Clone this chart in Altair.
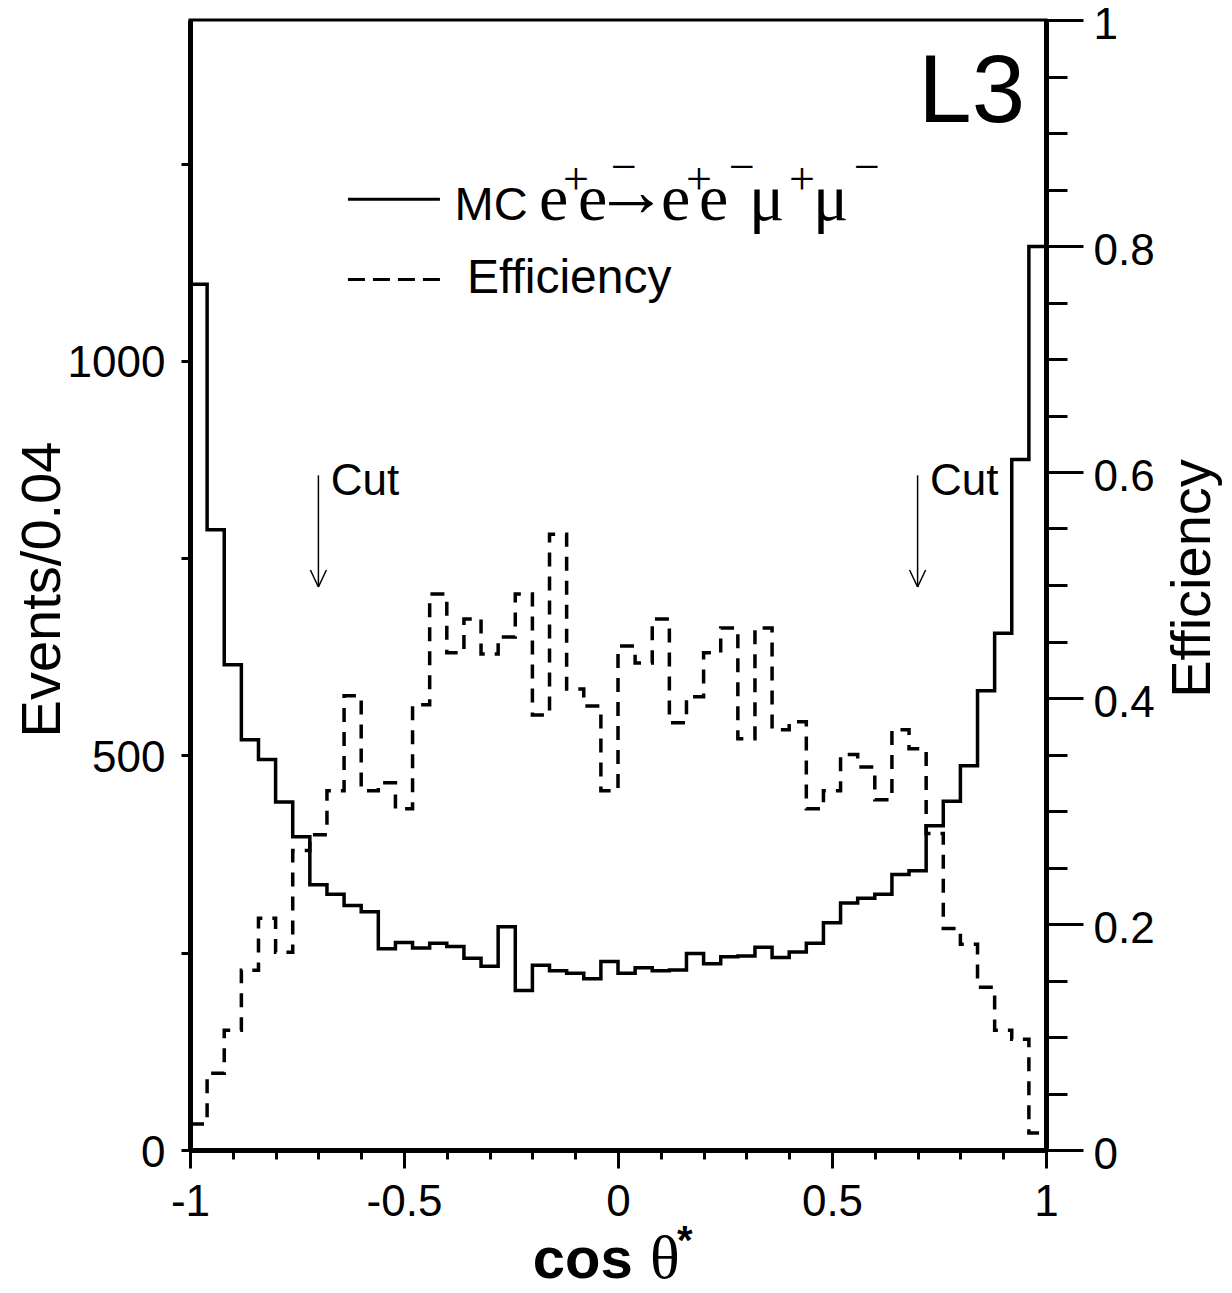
import altair as alt
import pandas as pd

# ---------------- data ----------------
bin_width = 0.04
events = [1097, 786, 615, 520, 495, 441, 397, 336, 324, 310,
          302, 255, 263, 256, 262, 258, 243, 233, 283, 202,
          234, 227, 224, 217, 239, 224, 231, 227, 228, 249,
          236, 245, 246, 257, 244, 251, 262, 288, 313, 319,
          324, 349, 354, 411, 442, 487, 582, 655, 875, 1145]
efficiency = [0.023, 0.068, 0.106, 0.159, 0.205, 0.175, 0.265, 0.279, 0.318, 0.402,
              0.318, 0.325, 0.302, 0.394, 0.492, 0.440, 0.470, 0.439, 0.454, 0.492,
              0.385, 0.545, 0.408, 0.393, 0.318, 0.446, 0.431, 0.470, 0.378, 0.401,
              0.440, 0.462, 0.364, 0.462, 0.372, 0.379, 0.302, 0.318, 0.350, 0.339,
              0.310, 0.372, 0.355, 0.280, 0.196, 0.182, 0.144, 0.106, 0.098, 0.015]

x_ticks = [round(-1 + 0.1 * i, 1) for i in range(21)]
left_ticks = [0, 250, 500, 750, 1000, 1250]
right_ticks = [round(0.05 * i, 2) for i in range(21)]

cut_values = [-0.7, 0.7]

edges = [round(-1 + bin_width * i, 2) for i in range(len(events))] + [1.0]
hist = pd.DataFrame({
    "cos": edges,
    "events": events + [events[-1]],
    "eff": efficiency + [efficiency[-1]],
})

# ---------------- scales & axes ----------------
xs = alt.Scale(domain=[-1, 1], nice=False, zero=False)
ys = alt.Scale(domain=[0, 1432], nice=False, zero=False)
ye = alt.Scale(domain=[0, 1], nice=False, zero=False)

FONT = "Liberation Sans"
SERIF = "Liberation Serif"

x_axis = alt.Axis(
    orient="bottom", values=x_ticks, title=None, grid=False,
    labelExpr="round(datum.value*10) % 5 == 0 ? toString(round(datum.value*10)/10) : ''",
    tickSize={"condition": {"test": "round(datum.value*10) % 5 == 0", "value": 18}, "value": 9},
    tickWidth=3, tickColor="black", domainWidth=5, domainColor="black",
    labelFont=FONT, labelFontSize=44, labelColor="black", labelPadding=12,
    labelFlush=False, labelOverlap=False,
)
left_axis = alt.Axis(
    orient="left", values=left_ticks, grid=False,
    labelExpr="datum.value % 500 == 0 ? toString(datum.value) : ''",
    tickSize=9, tickWidth=3, tickColor="black", domainWidth=5, domainColor="black",
    labelFont=FONT, labelFontSize=44, labelColor="black", labelPadding=16,
    labelOffset=3, labelFlush=False, labelOverlap=False,
    title="Events/0.04", titleFont=FONT, titleFontSize=56, titleFontWeight="normal",
    titleColor="black", titleAngle=270, titleX=-131, titleY=569,
    titleAlign="center", titleBaseline="alphabetic",
)
right_axis = alt.Axis(
    orient="right", values=right_ticks, grid=False,
    labelExpr="round(datum.value*100) % 20 == 0 ? toString(round(datum.value*10)/10) : ''",
    tickSize={"condition": {"test": "round(datum.value*100) % 20 == 0", "value": 37}, "value": 21},
    tickWidth=3, tickColor="black", domainWidth=5, domainColor="black",
    labelFont=FONT, labelFontSize=44, labelColor="black", labelPadding=10,
    labelOffset=5, labelFlush=False, labelOverlap=False,
    title="Efficiency", titleFont=FONT, titleFontSize=56, titleFontWeight="normal",
    titleColor="black", titleAngle=270, titleX=163, titleY=558,
    titleAlign="center", titleBaseline="alphabetic",
)

# ---------------- histograms ----------------
solid = alt.Chart(hist).mark_line(
    interpolate="step-after", color="black", strokeWidth=3.5
).encode(
    x=alt.X("cos:Q", scale=xs, axis=x_axis),
    y=alt.Y("events:Q", scale=ys, axis=left_axis),
)

dashed = alt.Chart(hist).mark_line(
    interpolate="step-after", color="black", strokeWidth=3.5, strokeDash=[14, 10]
).encode(
    x=alt.X("cos:Q", scale=xs, axis=x_axis),
    y=alt.Y("eff:Q", scale=ye, axis=right_axis),
)

# ---------------- annotations (positions in data units) ----------------
def enc_pt():
    return dict(
        x=alt.X("x:Q", scale=xs, axis=x_axis),
        y=alt.Y("y:Q", scale=ys, axis=left_axis),
    )

leg_solid = alt.Chart(pd.DataFrame([{"x": -0.631, "x2": -0.416, "y": 1205}])).mark_rule(
    color="black", strokeWidth=3).encode(**enc_pt(), x2="x2:Q")
leg_dash = alt.Chart(pd.DataFrame([{"x": -0.631, "x2": -0.416, "y": 1103}])).mark_rule(
    color="black", strokeWidth=3, strokeDash=[17, 8]).encode(**enc_pt(), x2="x2:Q")

head_dx = 0.0187
arrow_rows = []
for c in cut_values:
    arrow_rows.append({"x": c, "y": 855, "x2": c, "y2": 713.5})
    arrow_rows.append({"x": c - head_dx, "y": 735, "x2": c, "y2": 713.5})
    arrow_rows.append({"x": c + head_dx, "y": 735, "x2": c, "y2": 713.5})
arrows = alt.Chart(pd.DataFrame(arrow_rows)).mark_rule(
    color="black", strokeWidth=1.5).encode(**enc_pt(), x2="x2:Q", y2="y2:Q")

sans_df = pd.DataFrame([
    {"t": "Cut", "x": -0.671, "y": 830, "s": 44},
    {"t": "Cut", "x": 0.729, "y": 830, "s": 44},
    {"t": "MC", "x": -0.382, "y": 1179, "s": 47},
    {"t": "Efficiency", "x": -0.353, "y": 1086, "s": 48},
])
sans_txt = alt.Chart(sans_df).mark_text(
    font=FONT, align="left", baseline="alphabetic", color="black"
).encode(**enc_pt(), text="t:N", size=alt.Size("s:Q", scale=None, legend=None))

l3_txt = alt.Chart(pd.DataFrame([{"t": "L3", "x": 0.951, "y": 1303}])).mark_text(
    font=FONT, fontSize=96, align="right", baseline="alphabetic", color="black"
).encode(**enc_pt(), text="t:N")

serif_df = pd.DataFrame([
    {"t": "e", "x": -0.1846, "y": 1179, "s": 66},
    {"t": "+", "x": -0.1285, "y": 1211, "s": 46},
    {"t": "e", "x": -0.0935, "y": 1179, "s": 66},
    {"t": "\u2212", "x": -0.0164, "y": 1227, "s": 46},
    {"t": "\u2192", "x": -0.0561, "y": 1184, "s": 74},
    {"t": "e", "x": 0.1005, "y": 1179, "s": 66},
    {"t": "+", "x": 0.1589, "y": 1211, "s": 46},
    {"t": "e", "x": 0.1893, "y": 1179, "s": 66},
    {"t": "\u2212", "x": 0.2593, "y": 1227, "s": 46},
    {"t": "\u03bc", "x": 0.3061, "y": 1179, "s": 66},
    {"t": "+", "x": 0.3995, "y": 1211, "s": 46},
    {"t": "\u03bc", "x": 0.4556, "y": 1179, "s": 66},
    {"t": "\u2212", "x": 0.5514, "y": 1227, "s": 46},
    {"t": "\u03b8", "x": 0.0748, "y": -162, "s": 62},
])
serif_txt = alt.Chart(serif_df).mark_text(
    font=SERIF, align="left", baseline="alphabetic", color="black"
).encode(**enc_pt(), text="t:N", size=alt.Size("s:Q", scale=None, legend=None))

bold_df = pd.DataFrame([
    {"t": "cos", "x": -0.199, "y": -162, "s": 58},
    {"t": "*", "x": 0.138, "y": -132, "s": 40},
])
bold_txt = alt.Chart(bold_df).mark_text(
    font=FONT, fontWeight="bold", align="left", baseline="alphabetic", color="black"
).encode(**enc_pt(), text="t:N", size=alt.Size("s:Q", scale=None, legend=None))

left_group = alt.layer(solid, leg_solid, leg_dash, arrows, sans_txt, l3_txt, serif_txt, bold_txt)

chart = alt.layer(left_group, dashed).resolve_scale(y="independent").properties(
    width=856, height=1130,
    autosize=alt.AutoSizeParams(type="none"),
    padding={"left": 182, "top": 12, "right": 178, "bottom": 130},
).configure_view(stroke="black", strokeWidth=3)

chart.save("out.html", embed_options={"renderer": "svg", "actions": False})
